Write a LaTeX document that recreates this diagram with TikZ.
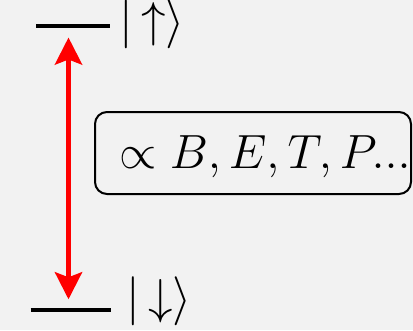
\RequirePackage{fix-cm}
\documentclass[tikz,border=0pt]{standalone}
\usetikzlibrary{arrows.meta}
\definecolor{bgc}{RGB}{242,242,242}
\begin{document}
\begin{tikzpicture}[x=1pt,y=-1pt,
  level/.style={line width=4pt, black},
  ket/.style={inner sep=0pt, anchor=base west, font=\fontsize{49}{58}\selectfont},
  lbl/.style={inner sep=0pt, anchor=base west, font=\fontsize{48}{58}\selectfont},
  boxst/.style={draw, line width=2pt, rounded corners=12pt, minimum width=316pt, minimum height=82pt, inner sep=0pt},
  transition/.style={red, line width=5pt, {Stealth[length=27pt,width=27pt,inset=5pt]}-{Stealth[length=27pt,width=27pt,inset=5pt]}}]
\fill[bgc] (0,0) rectangle (413,330);
\useasboundingbox (0,0) rectangle (413,330);
% levels
\coordinate (upL) at (36,26);
\coordinate (upR) at (109.5,26);
\coordinate (dnL) at (30.5,310.3);
\coordinate (dnR) at (111,310.3);
\draw[level] (upL) -- (upR);
\draw[level] (dnL) -- (dnR);
% kets
\node[ket] (kup) at (119.5,36) {$|\mkern-2mu\uparrow\rangle$};
\node[ket] (kdn) at (126.2,313.5) {$|\mkern-2mu\downarrow\rangle$};
% transition arrow
\coordinate (aTop) at (68.5,37.5);
\coordinate (aBot) at (68.5,299.3);
\draw[transition] (aTop) -- (aBot);
% box
\node[boxst] (box) at (253,153) {};
\node[lbl] (txt) at (119,168) {$\propto B,E,T,P...$};
\end{tikzpicture}
\end{document}
